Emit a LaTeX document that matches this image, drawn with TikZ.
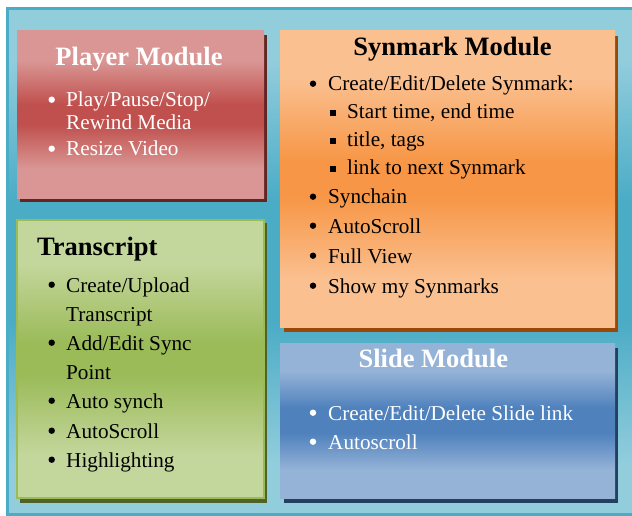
\documentclass[tikz,border=0pt]{standalone}
\usepackage{fontspec}
\setmainfont{Liberation Serif}

% box colours: light and dark tones of each gradient, plus drop shadows
\definecolor{bgL}{HTML}{92CDDC}
\definecolor{bgD}{HTML}{4BACC6}
\definecolor{bgEdge}{HTML}{4BACC6}
\definecolor{plL}{HTML}{D99694}
\definecolor{plD}{HTML}{C0504D}
\definecolor{plS}{HTML}{632523}
\definecolor{smL}{HTML}{FAC090}
\definecolor{smD}{HTML}{F79646}
\definecolor{smS}{HTML}{984807}
\definecolor{trL}{HTML}{C3D69B}
\definecolor{trD}{HTML}{9BBB59}
\definecolor{trS}{HTML}{4F6228}
\definecolor{trEdge}{HTML}{9BBB59}
\definecolor{slL}{HTML}{95B3D7}
\definecolor{slD}{HTML}{4F81BD}
\definecolor{slS}{HTML}{243F60}

% light - dark - light vertical fades (the path maps onto 25bp..75bp)
\pgfdeclareverticalshading{bgshade}{100bp}{color(0bp)=(bgL); color(30bp)=(bgL); color(44bp)=(bgD); color(56bp)=(bgD); color(70bp)=(bgL); color(100bp)=(bgL)}
\pgfdeclareverticalshading{plshade}{100bp}{color(0bp)=(plL); color(34bp)=(plL); color(47bp)=(plD); color(53bp)=(plD); color(66bp)=(plL); color(100bp)=(plL)}
\pgfdeclareverticalshading{smshade}{100bp}{color(0bp)=(smL); color(33bp)=(smL); color(47bp)=(smD); color(53bp)=(smD); color(67bp)=(smL); color(100bp)=(smL)}
\pgfdeclareverticalshading{trshade}{100bp}{color(0bp)=(trL); color(33bp)=(trL); color(47bp)=(trD); color(53bp)=(trD); color(67bp)=(trL); color(100bp)=(trL)}
\pgfdeclareverticalshading{slshade}{100bp}{color(0bp)=(slL); color(34bp)=(slL); color(46bp)=(slD); color(54bp)=(slD); color(66bp)=(slL); color(100bp)=(slL)}

\tikzset{
  bodytxt/.style={inner sep=0pt, anchor=base west, font=\fontsize{21.2}{25}\selectfont},
  titletxt/.style={inner sep=0pt, anchor=base, font=\fontsize{26.5}{30}\selectfont\bfseries},
}

% a filled round bullet sitting beside a text baseline
\newcommand{\rbul}[3]{\fill[#3] (#1,#2-7.3) circle[radius=3.2];}
% a small square bullet
\newcommand{\sbul}[3]{\fill[#3] (#1-3.1,#2-8.8) rectangle (#1+3.1,#2-2.6);}

\begin{document}
\begin{tikzpicture}[x=1pt,y=-1pt]
\useasboundingbox (0,0) rectangle (632,516);

% backdrop panel
\draw[bgEdge, line width=2.5pt, shading=bgshade] (7.5,8.5) rectangle (634,514.5);

% ---- Player Module ----
\fill[plS] (20,35) rectangle (267,202);
\shade[shading=plshade] (17,31) rectangle (264,198);
\node[titletxt, text=white] (pltitle) at (139,66) {Player Module};
\rbul{51.7}{107}{white}
\node[bodytxt, text=white] (pl1) at (66,107) {Play/Pause/Stop/};
\node[bodytxt, text=white] (pl2) at (66,130) {Rewind Media};
\rbul{51.7}{156}{white}
\node[bodytxt, text=white] (pl3) at (66,156) {Resize Video};

% ---- Synmark Module ----
\fill[smS] (284,36) rectangle (618,332);
\shade[shading=smshade] (280,31) rectangle (615,327);
\node[titletxt, text=black] (smtitle) at (452.5,56) {Synmark Module};
\rbul{313}{91}{black}
\node[bodytxt] (sm1) at (328,91) {Create/Edit/Delete Synmark:};
\sbul{332.7}{119}{black}
\node[bodytxt] (sm2) at (347,119) {Start time, end time};
\sbul{332.7}{147}{black}
\node[bodytxt] (sm3) at (347,147) {title, tags};
\sbul{332.7}{175}{black}
\node[bodytxt] (sm4) at (347,175) {link to next Synmark};
\rbul{313}{204}{black}
\node[bodytxt] (sm5) at (328,204) {Synchain};
\rbul{313}{233}{black}
\node[bodytxt] (sm6) at (328,233) {AutoScroll};
\rbul{313}{263}{black}
\node[bodytxt] (sm7) at (328,263) {Full View};
\rbul{313}{293}{black}
\node[bodytxt] (sm8) at (328,293) {Show my Synmarks};

% ---- Transcript ----
\fill[trS] (20,223) rectangle (267,503);
\shade[shading=trshade] (17,220) rectangle (264,498);
\draw[trEdge, line width=2pt] (17,220) rectangle (264,498);
\node[titletxt, anchor=base west] (trtitle) at (37,255) {Transcript};
\rbul{51.7}{292}{black}
\node[bodytxt] (tr1) at (66,292) {Create/Upload};
\node[bodytxt] (tr2) at (66,321) {Transcript};
\rbul{51.7}{350}{black}
\node[bodytxt] (tr3) at (66,350) {Add/Edit Sync};
\node[bodytxt] (tr4) at (66,379) {Point};
\rbul{51.7}{408}{black}
\node[bodytxt] (tr5) at (66,408) {Auto synch};
\rbul{51.7}{438}{black}
\node[bodytxt] (tr6) at (66,438) {AutoScroll};
\rbul{51.7}{467}{black}
\node[bodytxt] (tr7) at (66,467) {Highlighting};

% ---- Slide Module ----
\fill[slS] (284,348) rectangle (618,503);
\shade[shading=slshade] (280,343) rectangle (615,498);
\node[titletxt, text=white] (sltitle) at (433.3,367) {Slide Module};
\rbul{313}{420}{white}
\node[bodytxt, text=white] (sl1) at (328,420) {Create/Edit/Delete Slide link};
\rbul{313}{449}{white}
\node[bodytxt, text=white] (sl2) at (328,449) {Autoscroll};
\end{tikzpicture}
\end{document}
